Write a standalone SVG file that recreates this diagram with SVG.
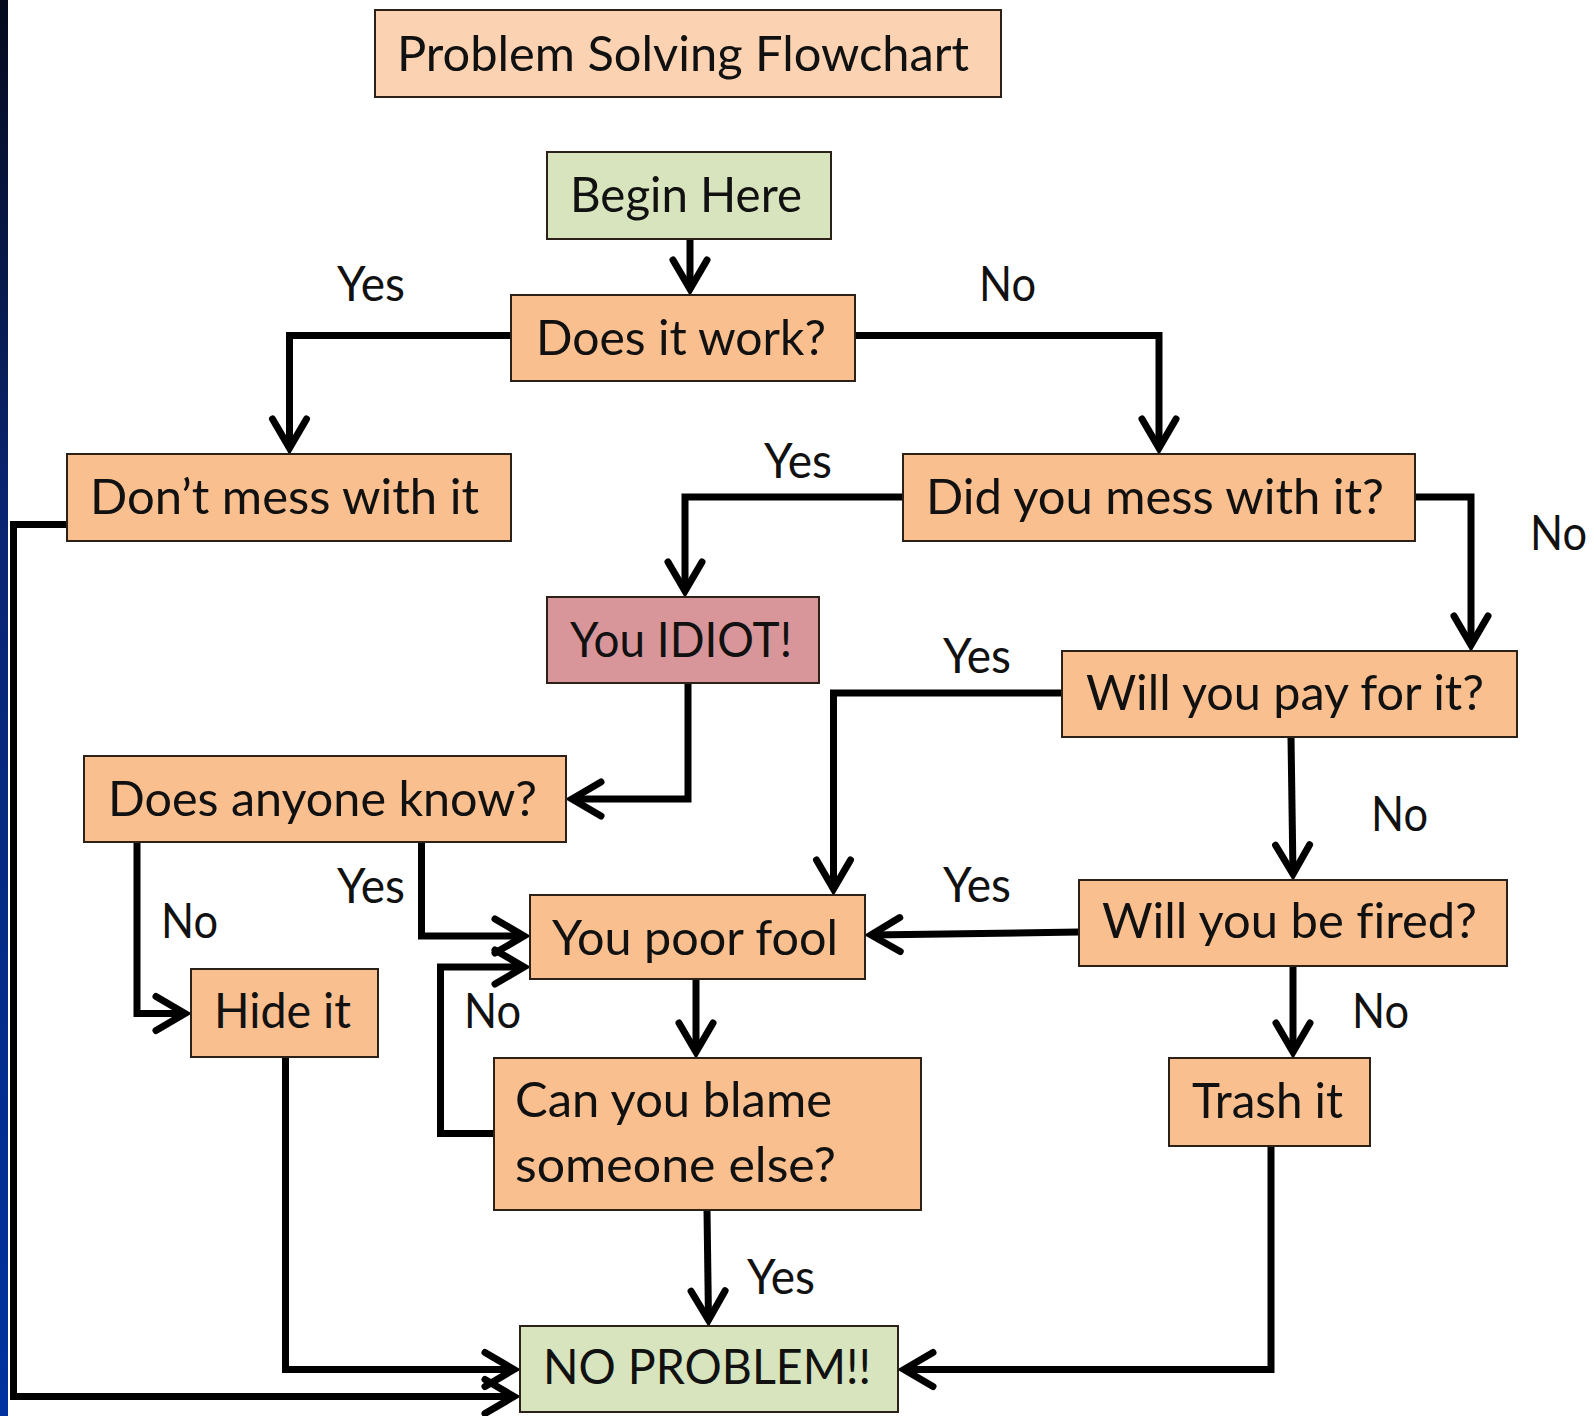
<svg xmlns="http://www.w3.org/2000/svg" width="1594" height="1416" viewBox="0 0 1594 1416">
<defs>
<linearGradient id="bar" x1="0" y1="0" x2="0" y2="1">
<stop offset="0" stop-color="#050a1c"/>
<stop offset="0.35" stop-color="#0a2470"/>
<stop offset="1" stop-color="#0033a0"/>
</linearGradient>
<marker id="ah" markerUnits="userSpaceOnUse" markerWidth="80" markerHeight="80" viewBox="-40 -40 80 80" refX="0" refY="0" orient="auto" overflow="visible">
<path d="M-29,-17 L0,0 L-29,17" fill="none" stroke="#000" stroke-width="7" stroke-linejoin="miter" stroke-linecap="round"/>
</marker>
<style>
.box{stroke:#2b2118;stroke-width:2}
.o{fill:#f9bf8f}
.t{fill:#fbd3b2}
.g{fill:#d7e4bd}
.r{fill:#d9969a}
text{font-family:Lato,"Open Sans","Liberation Sans",sans-serif;font-size:49px;fill:#111;font-variant-ligatures:none}
.c{fill:none;stroke:#000;stroke-width:7;stroke-linejoin:miter}
.a{marker-end:url(#ah)}
</style>
</defs>
<rect x="0" y="0" width="1594" height="1416" fill="#fff"/>
<rect x="0" y="0" width="8" height="1416" fill="url(#bar)"/>

<g id="connectors">
<polyline class="c a" points="690,239 690,289"/>
<polyline class="c a" points="511,335.5 289.5,335.5 289.5,448"/>
<polyline class="c a" points="855,335.5 1159,335.5 1159,448"/>
<polyline class="c a" points="903,497 685,497 685,591"/>
<polyline class="c a" points="1415,497 1471,497 1471,645"/>
<polyline class="c a" points="688,683 688,799 572,799"/>
<polyline class="c a" points="1062,693 833.5,693 833.5,889"/>
<polyline class="c a" points="1291,737 1293,874"/>
<polyline class="c a" points="1079,932 871,935"/>
<polyline class="c a" points="1293,966 1293,1052"/>
<polyline class="c a" points="137,842 137,1013.5 185,1013.5"/>
<polyline class="c a" points="421.5,842 421.5,936 524,936"/>
<polyline class="c a" points="494,1133.5 440.5,1133.5 440.5,967 524,967"/>
<polyline class="c a" points="696,979 696,1052"/>
<polyline class="c a" points="707,1210 708.5,1320"/>
<polyline class="c a" points="285.5,1057 285.5,1369.5 514,1369.5"/>
<polyline class="c a" points="67,524.5 13.5,524.5 13.5,1396.5 514,1396.5"/>
<polyline class="c a" points="1271,1146 1271,1369.5 904,1369.5"/>
</g>

<g id="title"><rect class="box t" x="375" y="10" width="626" height="87"/><text x="397" y="71" textLength="572" lengthAdjust="spacingAndGlyphs">Problem Solving Flowchart</text></g>
<g id="begin"><rect class="box g" x="547" y="152" width="284" height="87"/><text x="570" y="212" textLength="232" lengthAdjust="spacingAndGlyphs">Begin Here</text></g>
<g id="works"><rect class="box o" x="511" y="295" width="344" height="86"/><text x="536" y="355" textLength="290" lengthAdjust="spacingAndGlyphs">Does it work?</text></g>
<g id="dontmess"><rect class="box o" x="67" y="454" width="444" height="87"/><text x="90" y="514" textLength="389" lengthAdjust="spacingAndGlyphs">Don’t mess with it</text></g>
<g id="didmess"><rect class="box o" x="903" y="454" width="512" height="87"/><text x="926" y="514" textLength="458" lengthAdjust="spacingAndGlyphs">Did you mess with it?</text></g>
<g id="idiot"><rect class="box r" x="547" y="597" width="272" height="86"/><text x="570" y="657" textLength="222" lengthAdjust="spacingAndGlyphs">You IDIOT!</text></g>
<g id="pay"><rect class="box o" x="1062" y="651" width="455" height="86"/><text x="1086" y="710" textLength="398" lengthAdjust="spacingAndGlyphs">Will you pay for it?</text></g>
<g id="anyone"><rect class="box o" x="84" y="756" width="482" height="86"/><text x="108" y="816" textLength="429" lengthAdjust="spacingAndGlyphs">Does anyone know?</text></g>
<g id="poorfool"><rect class="box o" x="530" y="895" width="335" height="84"/><text x="552" y="955" textLength="286" lengthAdjust="spacingAndGlyphs">You poor fool</text></g>
<g id="fired"><rect class="box o" x="1079" y="880" width="428" height="86"/><text x="1102" y="938" textLength="375" lengthAdjust="spacingAndGlyphs">Will you be fired?</text></g>
<g id="hide"><rect class="box o" x="191" y="969" width="187" height="88"/><text x="214" y="1028" textLength="137" lengthAdjust="spacingAndGlyphs">Hide it</text></g>
<g id="blame"><rect class="box o" x="494" y="1058" width="427" height="152"/><text x="515" y="1117" textLength="317" lengthAdjust="spacingAndGlyphs">Can you blame</text><text x="515" y="1182" textLength="321" lengthAdjust="spacingAndGlyphs">someone else?</text></g>
<g id="trash"><rect class="box o" x="1169" y="1058" width="201" height="88"/><text x="1192" y="1118" textLength="151" lengthAdjust="spacingAndGlyphs">Trash it</text></g>
<g id="noproblem"><rect class="box g" x="520" y="1326" width="378" height="86"/><text x="543" y="1384" textLength="328" lengthAdjust="spacingAndGlyphs">NO PROBLEM!!</text></g>

<g id="labels">
<text x="337" y="301" textLength="68" lengthAdjust="spacingAndGlyphs">Yes</text>
<text x="979" y="301" textLength="57" lengthAdjust="spacingAndGlyphs">No</text>
<text x="764" y="478" textLength="68" lengthAdjust="spacingAndGlyphs">Yes</text>
<text x="1530" y="550" textLength="57" lengthAdjust="spacingAndGlyphs">No</text>
<text x="943" y="673" textLength="68" lengthAdjust="spacingAndGlyphs">Yes</text>
<text x="1371" y="831" textLength="57" lengthAdjust="spacingAndGlyphs">No</text>
<text x="943" y="902" textLength="68" lengthAdjust="spacingAndGlyphs">Yes</text>
<text x="337" y="903" textLength="68" lengthAdjust="spacingAndGlyphs">Yes</text>
<text x="161" y="938" textLength="57" lengthAdjust="spacingAndGlyphs">No</text>
<text x="464" y="1028" textLength="57" lengthAdjust="spacingAndGlyphs">No</text>
<text x="1352" y="1028" textLength="57" lengthAdjust="spacingAndGlyphs">No</text>
<text x="747" y="1294" textLength="68" lengthAdjust="spacingAndGlyphs">Yes</text>
</g>
</svg>
